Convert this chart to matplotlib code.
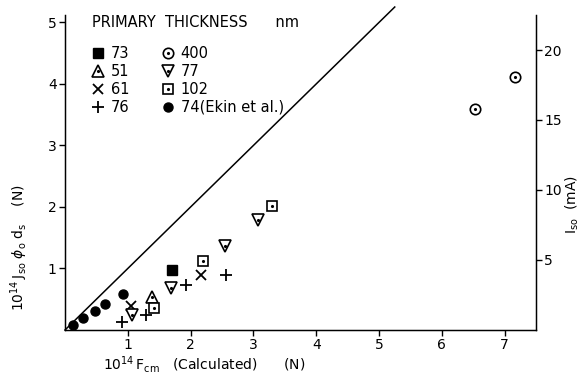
import matplotlib
matplotlib.use("Agg")
import matplotlib.pyplot as plt
from matplotlib.legend_handler import HandlerTuple

plt.rcParams['font.family'] = ['DejaVu Sans']

# data (10^14 F_cm calculated, 10^14 J_so phi_0 d_s)
x73 = [1.70]; y73 = [0.97]
x51 = [1.39]; y51 = [0.53]
x61 = [1.05, 2.17]; y61 = [0.39, 0.89]
x76 = [0.91, 1.29, 1.92, 2.56]; y76 = [0.13, 0.25, 0.73, 0.90]
x400 = [6.52, 7.17]; y400 = [3.60, 4.12]
x77 = [1.07, 1.69, 2.54, 3.08]; y77 = [0.25, 0.69, 1.36, 1.79]
x102 = [1.42, 2.20, 3.30]; y102 = [0.35, 1.12, 2.02]
x74 = [0.12, 0.28, 0.47, 0.64, 0.92]; y74 = [0.08, 0.19, 0.31, 0.42, 0.59]
line_x = [0, 5.25]; line_y = [0, 5.25]

xticks = [1, 2, 3, 4, 5, 6, 7]
yticks = [1, 2, 3, 4, 5]
rticks = [5, 10, 15, 20]

fs = 10
fig = plt.figure(figsize=(5.83, 3.77), dpi=100)
ax = fig.add_axes([0.1115, 0.1247, 0.808, 0.8355])
ax.set_xlim(0, 7.5)
ax.set_ylim(0, 5.12)

ax.plot(line_x, line_y, color='black', lw=1.1, clip_on=False)

ms = 6.5
h73, = ax.plot(x73, y73, ls='none', marker='s', ms=ms, color='black', clip_on=False)
h51, = ax.plot(x51, y51, ls='none', marker='^', ms=ms + 2, mfc='white', mec='black', mew=1.2)
d51, = ax.plot(x51, y51, ls='none', marker='.', ms=2.5, color='black')
h61, = ax.plot(x61, y61, ls='none', marker='x', ms=ms, mew=1.3, color='black')
h76, = ax.plot(x76, y76, ls='none', marker='+', ms=ms + 2, mew=1.3, color='black')
h400, = ax.plot(x400, y400, ls='none', marker='o', ms=ms + 1, mfc='white', mec='black', mew=1.2)
d400, = ax.plot(x400, y400, ls='none', marker='.', ms=2.5, color='black')
h77, = ax.plot(x77, y77, ls='none', marker='v', ms=ms + 2, mfc='white', mec='black', mew=1.2)
d77, = ax.plot(x77, y77, ls='none', marker='.', ms=2.5, color='black')
h102, = ax.plot(x102, y102, ls='none', marker='s', ms=ms, mfc='white', mec='black', mew=1.2)
d102, = ax.plot(x102, y102, ls='none', marker='.', ms=2.5, color='black')
h74, = ax.plot(x74, y74, ls='none', marker='o', ms=ms, color='black', clip_on=False)

handles = [h73, (h51, d51), h61, h76, (h400, d400), (h77, d77), (h102, d102), h74]
labels = ['73', '51', '61', '76', '400', '77', '102', '74(Ekin et al.)']
leg = ax.legend(handles, labels, ncol=2, frameon=False, loc='upper left',
                bbox_to_anchor=(0.045, 1.02), title='PRIMARY  THICKNESS      nm',
                alignment='left', fontsize=fs + 0.5, title_fontsize=fs + 0.5,
                handlelength=0.8, handletextpad=0.5, columnspacing=2.2,
                labelspacing=0.2, borderaxespad=0,
                handler_map={tuple: HandlerTuple(ndivide=1, pad=0)})
leg._legend_box.sep = 12

ax.spines['top'].set_visible(False)
for s in ['left', 'bottom', 'right']:
    ax.spines[s].set_linewidth(1.0)

ax.set_xticks(xticks)
ax.set_yticks(yticks)
ax.tick_params(direction='out', length=4, width=1, labelsize=fs, pad=2)

ax2 = ax.twinx()
ax2.set_ylim(0, 22.5)
ax2.set_yticks(rticks)
ax2.tick_params(direction='out', length=4, width=1, labelsize=fs, pad=2)
ax2.spines['top'].set_visible(False)

ax.set_xlabel(r'$10^{14}\,$F$_{\rm cm}$   (Calculated)      (N)', fontsize=fs)
ax.xaxis.set_label_coords(0.295, -0.075)
ax.set_ylabel(r'$10^{14}\,$J$_{\rm so}$ $\phi_{\rm o}$ d$_{\rm s}$    (N)', fontsize=fs)
ax.yaxis.set_label_coords(-0.075, 0.26)
ax2.set_ylabel(r'I$_{\rm so}$  (mA)', fontsize=fs, rotation=90, va='center')
ax2.yaxis.set_label_coords(1.077, 0.40)

fig.savefig('out.png', dpi=100)
